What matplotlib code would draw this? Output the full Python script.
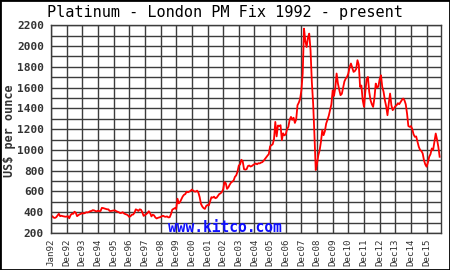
import matplotlib
matplotlib.use("Agg")
import matplotlib.pyplot as plt
from matplotlib.patches import Rectangle
import numpy as np

# Platinum London PM fix, monthly values (US$/oz)
p1992 = [355, 362, 348, 345, 352, 368, 385, 362, 366, 362, 360, 357]
p1993 = [358, 362, 342, 372, 385, 385, 405, 395, 362, 372, 380, 385]
p1994 = [392, 388, 392, 400, 398, 402, 410, 412, 420, 418, 412, 408]
p1995 = [415, 410, 412, 442, 440, 436, 432, 428, 428, 412, 412, 415]
p1996 = [416, 418, 410, 405, 400, 392, 394, 400, 388, 382, 378, 370]
p1997 = [355, 362, 376, 378, 395, 428, 422, 412, 428, 424, 400, 365]
p1998 = [372, 382, 392, 410, 392, 360, 376, 370, 350, 340, 346, 350]
p1999 = [354, 362, 366, 358, 356, 360, 350, 352, 382, 425, 432, 440]
p2000 = [432, 530, 485, 500, 525, 552, 568, 575, 598, 592, 598, 605]
p2001 = [618, 608, 600, 598, 608, 590, 545, 480, 455, 440, 432, 460]
p2002 = [470, 465, 505, 545, 540, 550, 535, 540, 558, 575, 582, 595]
p2003 = [620, 690, 680, 625, 640, 665, 685, 695, 705, 740, 755, 790]
p2004 = [850, 860, 905, 890, 815, 810, 815, 845, 850, 840, 845, 855]
p2005 = [862, 870, 862, 872, 870, 878, 882, 895, 912, 928, 945, 960]
p2006 = [1035, 1045, 1055, 1105, 1270, 1130, 1235, 1230, 1238, 1094, 1160, 1140]
p2007 = [1150, 1200, 1222, 1290, 1318, 1290, 1310, 1260, 1293, 1430, 1455, 1490]
p2008 = [1575, 1736, 2168, 2050, 1991, 2080, 2120, 1960, 1655, 1447, 1142, 806]
p2009 = [870, 950, 998, 1080, 1190, 1142, 1180, 1254, 1290, 1330, 1383, 1440]
p2010 = [1575, 1520, 1600, 1736, 1640, 1580, 1527, 1540, 1600, 1660, 1687, 1703]
p2011 = [1736, 1800, 1832, 1790, 1751, 1760, 1780, 1864, 1820, 1607, 1620, 1480]
p2012 = [1414, 1560, 1680, 1703, 1560, 1479, 1440, 1414, 1500, 1639, 1600, 1610]
p2013 = [1680, 1719, 1607, 1560, 1479, 1420, 1334, 1450, 1543, 1430, 1383, 1400]
p2014 = [1420, 1431, 1450, 1440, 1460, 1480, 1495, 1479, 1440, 1351, 1230, 1222]
p2015 = [1229, 1200, 1150, 1126, 1130, 1080, 1030, 1000, 990, 966, 900, 860]
p2016 = [838, 880, 934, 960, 1014, 1000, 1080, 1158, 1100, 1030, 934]

prices = (p1992 + p1993 + p1994 + p1995 + p1996 + p1997 + p1998 + p1999 +
          p2000 + p2001 + p2002 + p2003 + p2004 + p2005 + p2006 + p2007 +
          p2008 + p2009 + p2010 + p2011 + p2012 + p2013 + p2014 + p2015 + p2016)
dates = 1992 + np.arange(len(prices)) / 12.0

tick_labels = ["Jan92"] + ["Dec%02d" % (y % 100) for y in range(1992, 2016)]
tick_pos = list(range(1992, 2017))

grid_col = "#3c3c3c"
txt_col = "#333333"
mono = "DejaVu Sans Mono"

fig = plt.figure(figsize=(4.5, 2.7), dpi=100)
ax = fig.add_axes([51 / 450, 1 - 233 / 270, 390 / 450, (233 - 25.3) / 270])

ax.plot(dates, prices, color="red", lw=1.3)

ax.set_xlim(1992, 2016.92)
ax.set_ylim(200, 2200)
ax.set_xticks(tick_pos)
ax.set_xticklabels(tick_labels, rotation=90, family=mono, fontsize=6.6, color=txt_col)
ax.set_yticks(range(200, 2201, 200))
ax.set_yticklabels([str(v) for v in range(200, 2201, 200)], family=mono,
                   fontsize=8, fontweight="bold", color=txt_col)
ax.set_yticks(range(300, 2200, 200), minor=True)
ax.tick_params(which="both", length=0)
ax.tick_params(axis="x", pad=4)
ax.tick_params(axis="y", pad=5)
ax.grid(True, which="both", color=grid_col, lw=1.0)
ax.set_axisbelow(True)
for s in ax.spines.values():
    s.set_color(grid_col)
    s.set_linewidth(1.0)

fig.text(224.5 / 450, 1 - 13 / 270, "Platinum - London PM Fix 1992 - present",
         ha="center", va="center", family=mono, fontsize=11, color="black")
fig.text(10 / 450, 1 - 131 / 270, "US$ per ounce", rotation=90, ha="center",
         va="center", family=mono, fontsize=8.5, fontweight="bold", color=txt_col)
fig.text(225 / 450, 1 - 232 / 270, "www.kitco.com", ha="center", va="baseline",
         family=mono, fontsize=10.5, fontweight="bold", color="#1010ff")

fig.patches.append(Rectangle((0, 0), 1, 1, transform=fig.transFigure, fill=False,
                             edgecolor="black", lw=2))

fig.savefig("out.png", dpi=100)
